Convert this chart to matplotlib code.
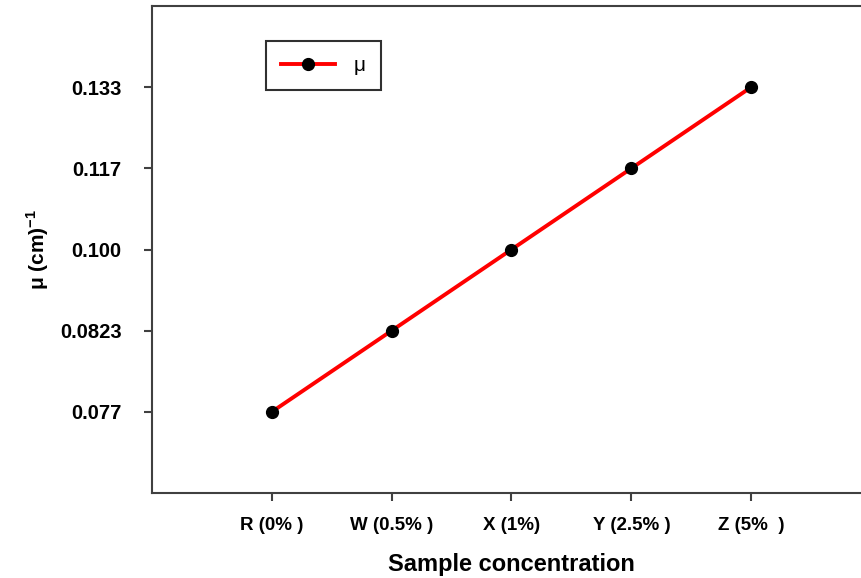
import matplotlib
matplotlib.use("Agg")
import matplotlib.pyplot as plt

plt.rcParams['font.family'] = ['Liberation Sans', 'DejaVu Sans']
plt.rcParams['mathtext.fontset'] = 'custom'
plt.rcParams['mathtext.rm'] = 'Liberation Sans:bold'
plt.rcParams['mathtext.bf'] = 'Liberation Sans:bold'

# sample categories and attenuation coefficient values
samples = ["R (0% )", "W (0.5% )", "X (1%)", "Y (2.5% )", "Z (5%  )"]
mu_values = [0.077, 0.0823, 0.100, 0.117, 0.133]
mu_labels = ["0.077", "0.0823", "0.100", "0.117", "0.133"]

# the y axis in the original is evenly spaced by label, not by value
x_pos = list(range(len(samples)))
y_pos = [mu_labels.index(lbl) for lbl in mu_labels]

fig = plt.figure(figsize=(8.61, 5.78), dpi=100)
ax = fig.add_axes([152/861, 85/578, 719/861, 487/578])

ax.plot(x_pos, y_pos, color='red', linewidth=2.8, marker='o',
        markersize=8.5, markerfacecolor='black', markeredgecolor='black',
        label='μ')

ax.set_xlim(-1, 5)
ax.set_ylim(-1, 5)
ax.set_xticks(x_pos)
ax.set_xticklabels(samples, fontsize=13.5, fontweight='bold')
ax.set_yticks(y_pos)
ax.set_yticklabels(mu_labels, fontsize=14.5, fontweight='bold')

for s in ['left', 'bottom', 'top']:
    ax.spines[s].set_color('#404040')
    ax.spines[s].set_linewidth(1.5)
ax.spines['right'].set_visible(False)
ax.tick_params(direction='out', length=6, width=1.5, color='#404040')
ax.tick_params(axis='x', pad=11)
ax.tick_params(axis='y', pad=16)

ax.set_xlabel("Sample concentration", fontsize=17, fontweight='bold', labelpad=14)
ax.set_ylabel("μ (cm)$^{-1}$", fontsize=15, fontweight='bold', labelpad=6)

leg = ax.legend(loc='upper left', bbox_to_anchor=(104/719, 1 - 25/487),
                fancybox=False, edgecolor='#303030', fontsize=15,
                handlelength=2.6, handletextpad=0.9, borderpad=0.7,
                framealpha=1)
leg.get_frame().set_linewidth(1.5)

fig.savefig("out.png", dpi=100)
